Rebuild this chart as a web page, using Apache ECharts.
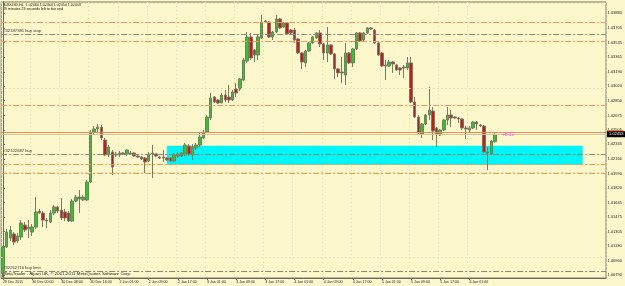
<!DOCTYPE html>
<html><head><meta charset="utf-8">
<script src="https://cdn.jsdelivr.net/npm/echarts@6/dist/echarts.min.js"></script>
<style>html,body{margin:0;padding:0;background:#fcf8cc;}#c{width:625px;height:286px;}</style>
</head><body><div id="c"></div>
<script>
const headerLine1 = 'AUDUSD,H1  1.02364 1.02464 1.02354 1.02453';
const headerLine2 = '49 minutes 23 seconds left to bar end';
const footerText = 'MetaTrader - Alpari UK, \u00a9 2001-2011 MetaQuotes Software Corp.';

const opens = [1.00816,1.01123,1.01229,1.01276,1.01193,1.01240,1.01382,1.01335,1.01299,1.01358,1.01547,
1.01524,1.01441,1.01417,1.01524,1.01595,1.01559,1.01536,1.01524,1.01429,1.01665,
1.01712,1.01677,1.01677,1.01889,1.02479,1.02515,1.02538,1.02385,1.02208,1.02243,
1.02208,1.02208,1.02232,1.02220,1.02232,1.02232,1.02196,1.02184,1.02173,1.02137,
1.02220,1.02220,1.02184,1.02184,1.02173,1.02173,1.02137,1.02196,1.02196,1.02208,
1.02314,1.02208,1.02291,1.02326,1.02409,1.02479,1.02645,1.02892,1.02857,1.02822,
1.02916,1.02892,1.02857,1.02987,1.02987,1.03093,1.03317,1.03600,1.03447,1.03388,
1.03589,1.03789,1.03777,1.03600,1.03659,1.03813,1.03718,1.03766,1.03683,1.03683,
1.03577,1.03412,1.03294,1.03435,1.03530,1.03589,1.03648,1.03518,1.03412,1.03506,
1.03400,1.03223,1.03187,1.03152,1.03412,1.03294,1.03459,1.03648,1.03565,1.03648,
1.03707,1.03683,1.03530,1.03412,1.03270,1.03258,1.03305,1.03270,1.03235,1.03246,
1.03235,1.03294,1.02833,1.02656,1.02456,1.02574,1.02680,1.02727,1.02527,1.02444,
1.02503,1.02621,1.02680,1.02656,1.02645,1.02633,1.02527,1.02503,1.02527,1.02597,
1.02562,1.02550,1.02243,1.02220,1.02364];
const highs = [1.01134,1.01335,1.01370,1.01299,1.01287,1.01441,1.01417,1.01441,1.01394,1.01712,1.01571,
1.01547,1.01465,1.01559,1.01618,1.01607,1.01701,1.01571,1.01547,1.01689,1.01736,
1.01795,1.01736,1.01913,1.02503,1.02550,1.02574,1.02562,1.02409,1.02326,1.02267,
1.02243,1.02255,1.02243,1.02279,1.02255,1.02243,1.02208,1.02196,1.02184,1.02243,
1.02326,1.02232,1.02196,1.02267,1.02184,1.02184,1.02232,1.02243,1.02243,1.02350,
1.02338,1.02338,1.02350,1.02468,1.02503,1.02680,1.02940,1.02904,1.02869,1.02940,
1.02975,1.03034,1.02975,1.03058,1.03117,1.03353,1.03659,1.03648,1.03459,1.03624,
1.03860,1.03801,1.03789,1.03671,1.03860,1.03825,1.03777,1.03777,1.03695,1.03707,
1.03589,1.03423,1.03447,1.03541,1.03612,1.03659,1.03683,1.03530,1.03718,1.03518,
1.03412,1.03235,1.03364,1.03530,1.03423,1.03471,1.03659,1.03659,1.03659,1.03718,
1.03718,1.03695,1.03541,1.03423,1.03329,1.03329,1.03317,1.03282,1.03246,1.03270,
1.03364,1.03364,1.02892,1.02680,1.02586,1.02692,1.03011,1.02774,1.02538,1.02515,
1.02633,1.02774,1.02739,1.02668,1.02656,1.02645,1.02550,1.02550,1.02609,1.02609,
1.02574,1.02562,1.02302,1.02385,1.02464];
const lows = [1.00768,1.01111,1.01193,1.01146,1.01170,1.01205,1.01299,1.01229,1.01252,1.01335,1.01512,
1.01358,1.01347,1.01406,1.01500,1.01524,1.01441,1.01429,1.01417,1.01417,1.01653,
1.01524,1.01665,1.01665,1.01878,1.02456,1.02479,1.02385,1.02196,1.02184,1.01972,
1.02184,1.02184,1.02208,1.02196,1.02208,1.02184,1.02173,1.02149,1.01996,1.02125,
1.01937,1.02184,1.02161,1.02125,1.02137,1.02125,1.02125,1.02173,1.02184,1.02196,
1.02196,1.02149,1.02267,1.02302,1.02397,1.02468,1.02621,1.02822,1.02810,1.02822,
1.02833,1.02822,1.02845,1.02892,1.02963,1.03081,1.03294,1.03329,1.03305,1.03329,
1.03577,1.03766,1.03589,1.03565,1.03648,1.03695,1.03707,1.03624,1.03636,1.03530,
1.03400,1.03223,1.03246,1.03423,1.03518,1.03577,1.03482,1.03329,1.03305,1.03388,
1.03105,1.03128,1.03058,1.03034,1.03282,1.03246,1.03447,1.03541,1.03553,1.03636,
1.03683,1.03518,1.03376,1.03246,1.03093,1.03246,1.03176,1.03199,1.03152,1.03117,
1.03211,1.02822,1.02645,1.02444,1.02409,1.02562,1.02621,1.02385,1.02302,1.02432,
1.02491,1.02562,1.02538,1.02633,1.02586,1.02503,1.02397,1.02468,1.02515,1.02503,
1.02538,1.02232,1.02031,1.02208,1.02354];
const closes = [1.01123,1.01299,1.01323,1.01181,1.01252,1.01406,1.01323,1.01358,1.01358,1.01536,1.01524,
1.01441,1.01429,1.01524,1.01595,1.01547,1.01465,1.01465,1.01429,1.01665,1.01712,
1.01689,1.01712,1.01889,1.02479,1.02515,1.02538,1.02409,1.02208,1.02302,1.02066,
1.02220,1.02232,1.02220,1.02267,1.02220,1.02196,1.02184,1.02161,1.02125,1.02220,
1.02232,1.02196,1.02173,1.02173,1.02149,1.02137,1.02208,1.02220,1.02232,1.02326,
1.02220,1.02302,1.02326,1.02420,1.02479,1.02656,1.02881,1.02833,1.02822,1.02916,
1.02857,1.02857,1.02951,1.02940,1.03105,1.03329,1.03600,1.03353,1.03388,1.03600,
1.03777,1.03777,1.03600,1.03659,1.03813,1.03707,1.03766,1.03636,1.03648,1.03565,
1.03412,1.03305,1.03435,1.03530,1.03600,1.03648,1.03518,1.03412,1.03506,1.03400,
1.03223,1.03176,1.03176,1.03412,1.03294,1.03459,1.03648,1.03553,1.03648,1.03707,
1.03695,1.03530,1.03388,1.03258,1.03258,1.03305,1.03282,1.03211,1.03211,1.03235,
1.03294,1.02833,1.02656,1.02468,1.02574,1.02680,1.02739,1.02491,1.02456,1.02503,
1.02621,1.02680,1.02645,1.02645,1.02633,1.02527,1.02515,1.02527,1.02597,1.02574,
1.02550,1.02243,1.02232,1.02373,1.02453];

const slotCount = 166;
const timeLabelIndex = [0,8,16,24,32,40,48,56,64,72,80,88,96,104,112,120,128];
const timeLabelText = ['29 Dec 2011','30 Dec 00:00','30 Dec 08:00','30 Dec 16:00','2 Jan 01:00','2 Jan 09:00','2 Jan 17:00','3 Jan 01:00','3 Jan 09:00','3 Jan 17:00','4 Jan 01:00','4 Jan 09:00','4 Jan 17:00','5 Jan 01:00','5 Jan 09:00','5 Jan 17:00','6 Jan 01:00'];
const priceTicks = [1.00790,1.00960,1.01130,1.01305,1.01475,1.01645,1.01820,1.01990,1.02160,1.02335,1.02505,1.02675,1.02850,1.03020,1.03190,1.03365,1.03535,1.03705,1.03880];

const stopLevels = [1.03774,1.03553,1.02794,1.02098,1.01992];
const orderPrices = [1.03632,1.02216,1.00836];
const orderNames = ['#32187381 buy stop','#32122687 buy','#32262716 buy limit'];
const hLinePrice = 1.02479;
const bidPrice = 1.02453;
const zoneBounds = [45.0, 159.1, 1.02318, 1.02090];
const pipText = '+8.33';
const pipPoint = [138.6, 1.02451];

const FONT = '"Liberation Sans", Arial, sans-serif';
const slots = Array.from({length: slotCount}, (_, i) => String(i));
const labelMap = {};
timeLabelIndex.forEach((k, j) => { labelMap[k] = timeLabelText[j]; });
const isLabel = (i) => labelMap[i] !== undefined;
const candleData = opens.map((o, i) => [o, closes[i], lows[i], highs[i]]);

const dashDot = [6, 2, 2, 2];
const gridLines = priceTicks.map(p => ({yAxis: p, lineStyle: {color: '#e2dcae', type: [1, 3], width: 1}, label: {show: false}}));
const levelLines = [];
stopLevels.forEach(p => levelLines.push({yAxis: p, lineStyle: {color: '#f59858', type: dashDot, width: 1}, label: {show: false}}));
orderPrices.forEach((p, j) => levelLines.push({yAxis: p, lineStyle: {color: '#8a8a78', type: dashDot, width: 1},
  label: {show: true, position: 'insideStartTop', formatter: orderNames[j], fontSize: 4.2, color: '#333', fontFamily: FONT, distance: [2, 1]}}));
levelLines.push({yAxis: hLinePrice, lineStyle: {color: '#f08a50', type: 'solid', width: 1},
  label: {show: true, position: 'end', formatter: hLinePrice.toFixed(5), backgroundColor: '#f07040', color: '#f07040', fontSize: 4, padding: [0, 1], distance: 1}});
levelLines.push({yAxis: bidPrice, lineStyle: {color: '#cfc7a0', type: 'solid', width: 1},
  label: {show: true, position: 'end', formatter: bidPrice.toFixed(5), backgroundColor: '#000', color: '#fff', fontSize: 4, padding: [1, 2], distance: 1, fontFamily: FONT}});

const chart = echarts.init(document.getElementById('c'));
chart.setOption({
  animation: false,
  backgroundColor: '#fcf8cc',
  grid: {left: 0.2, right: 16.1, top: 2, bottom: 8, show: true, borderColor: '#7a7a68', borderWidth: 1},
  xAxis: [{
    type: 'category', data: slots, boundaryGap: true,
    axisLine: {show: true, lineStyle: {color: '#6a6a5a', width: 1}},
    axisTick: {show: true, interval: (i) => isLabel(i), alignWithLabel: true, length: 2, lineStyle: {color: '#6a6a5a'}},
    axisLabel: {interval: (i) => isLabel(i), formatter: (v, i) => labelMap[i] || '', align: 'left', margin: 2, fontSize: 3.6, color: '#222', fontFamily: FONT},
    splitLine: {show: true, interval: (i) => isLabel(i), lineStyle: {color: '#e2dcae', type: [1, 3]}}
  }, {
    type: 'value', min: -0.5, max: slotCount - 0.5, show: false
  }],
  yAxis: [{
    type: 'value', position: 'right', min: 1.00757, max: 1.04013, scale: true,
    axisLine: {show: true, lineStyle: {color: '#6a6a5a'}},
    axisTick: {show: true, customValues: priceTicks, length: 2, lineStyle: {color: '#6a6a5a'}},
    axisLabel: {customValues: priceTicks, formatter: (v) => Number(v).toFixed(5), fontSize: 4, margin: 1.5, color: '#222', fontFamily: FONT},
    splitLine: {show: false}
  }],
  graphic: [
    {type: 'text', left: 3, top: 2.5, style: {text: headerLine1, fontSize: 3.6, fill: '#111', fontFamily: FONT}},
    {type: 'text', left: 3, top: 6.8, style: {text: headerLine2, fontSize: 3.6, fill: '#111', fontFamily: FONT}},
    {type: 'text', left: 3, top: 272, style: {text: footerText, fontSize: 4.4, fill: '#222', fontFamily: FONT}}
  ],
  series: [{
    type: 'line', xAxisIndex: 1, yAxisIndex: 0, data: [], z: 1, silent: true,
    markLine: {silent: true, symbol: 'none', animation: false, data: gridLines},
    markArea: {silent: true, itemStyle: {color: '#00f6f6', opacity: 1},
      data: [[{coord: [zoneBounds[0], zoneBounds[2]]}, {coord: [zoneBounds[1], zoneBounds[3]]}]]}
  }, {
    type: 'line', xAxisIndex: 1, yAxisIndex: 0, data: [], z: 2, silent: true,
    markLine: {silent: true, symbol: 'none', animation: false, precision: 5, data: levelLines},
    markPoint: {silent: true, symbol: 'circle', symbolSize: 1, itemStyle: {color: 'rgba(0,0,0,0)'},
      label: {show: true, position: 'inside', formatter: pipText, color: '#ff40ff', fontSize: 4.5, fontFamily: FONT},
      data: [{coord: [pipPoint[0], pipPoint[1]]}]}
  }, {
    type: 'candlestick', xAxisIndex: 0, yAxisIndex: 0, data: candleData, z: 3, barWidth: 3,
    itemStyle: {color: '#1fd01f', color0: '#d01515', borderColor: '#7a7a68', borderColor0: '#7a7a68', borderWidth: 1}
  }]
});
</script></body></html>
